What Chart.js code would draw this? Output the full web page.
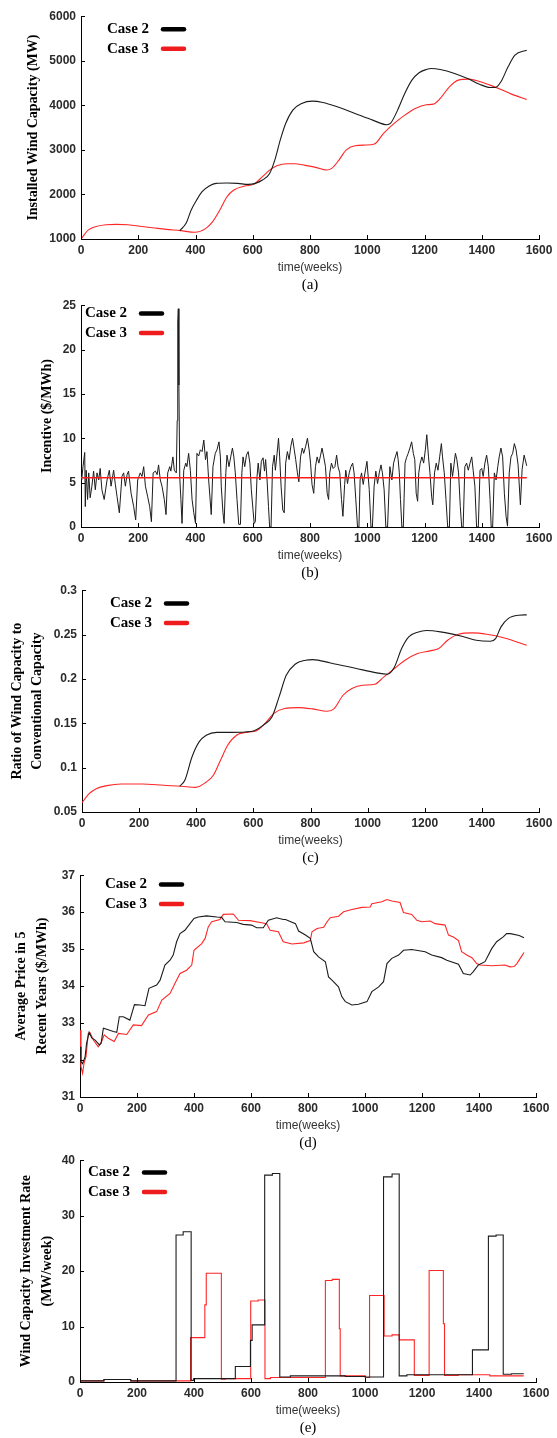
<!DOCTYPE html>
<html>
<head>
<meta charset="utf-8">
<title>Wind capacity cases</title>
<script src="https://cdn.jsdelivr.net/npm/chart.js@4.4.1/dist/chart.umd.min.js"></script>
<style>
    body { margin: 0; background: #fff; width: 557px; height: 1438px; position: relative; overflow: hidden; }
    canvas { position: absolute; left: 0; }
</style>
</head>
<body>
<canvas id="chartA"></canvas>
<canvas id="chartB"></canvas>
<canvas id="chartC"></canvas>
<canvas id="chartD"></canvas>
<canvas id="chartE"></canvas>
<script>
// values: weeks and the value at that week
const seriesNames = ["Case 2", "Case 3"];

// (a) installed wind capacity (MW)
const weeksA2 = [345, 367, 385, 404, 423, 448, 472, 510, 547, 584, 609, 634, 659, 677, 696, 715, 740, 771, 808, 845, 895, 957, 1019, 1069, 1081, 1106, 1131, 1156, 1181, 1206, 1224, 1255, 1305, 1355, 1392, 1429, 1448, 1467, 1492, 1516, 1557];
const capA2 = [1190, 1351, 1650, 1874, 2061, 2188, 2248, 2256, 2248, 2226, 2248, 2323, 2472, 2771, 3220, 3593, 3892, 4042, 4094, 4064, 3967, 3818, 3668, 3564, 3593, 3892, 4266, 4565, 4730, 4804, 4827, 4804, 4715, 4588, 4475, 4400, 4400, 4528, 4864, 5125, 5238];
const weeksA3 = [0, 25, 50, 87, 124, 162, 199, 249, 298, 348, 398, 435, 460, 485, 510, 534, 572, 603, 634, 659, 684, 721, 746, 783, 820, 858, 876, 901, 926, 957, 994, 1025, 1057, 1094, 1131, 1168, 1206, 1231, 1255, 1287, 1318, 1355, 1392, 1429, 1467, 1504, 1557];
const capA3 = [1000, 1200, 1276, 1320, 1329, 1320, 1290, 1254, 1217, 1187, 1150, 1232, 1389, 1650, 1949, 2099, 2188, 2226, 2398, 2547, 2644, 2689, 2689, 2652, 2607, 2547, 2584, 2771, 2995, 3093, 3108, 3130, 3369, 3593, 3780, 3930, 4012, 4027, 4154, 4416, 4565, 4588, 4535, 4453, 4356, 4251, 4132];

// (b) incentive ($/MWh)
const weeksB2 = [0, 3, 7, 13, 15, 18, 23, 27, 32, 38, 44, 50, 56, 62, 67, 73, 81, 91, 99, 105, 114, 120, 126, 134, 143, 149, 155, 161, 166, 175, 184, 191, 198, 207, 213, 219, 225, 233, 240, 246, 252, 260, 266, 271, 277, 283, 291, 297, 303, 310, 314, 321, 326, 333, 336, 338, 340, 342, 345, 349, 353, 359, 366, 370, 376, 382, 388, 394, 400, 405, 411, 417, 423, 429, 435, 440, 446, 452, 455, 461, 469, 475, 482, 487,
    490, 496, 500, 506, 510, 517, 523, 529, 534, 539, 545, 551, 557, 562, 566, 572, 578, 584, 590, 595, 601, 605, 609, 615, 619, 625, 630, 636, 641, 645, 650, 655, 659, 664, 669, 675, 679, 685, 690, 694, 699, 705, 710, 715, 721, 727, 733, 739, 745, 750, 756, 761, 767, 773, 778, 785, 791, 797, 802, 807, 813, 819, 825, 831, 837, 842, 848, 854, 860, 865, 869, 875, 881, 887, 893, 898, 904, 910, 915, 921, 925, 931, 937, 943, 949, 954, 960, 966, 971, 975, 980, 986, 992,
    999, 1007, 1013, 1018, 1024, 1030, 1036, 1042, 1048, 1053, 1059, 1065, 1071, 1079, 1086, 1092, 1098, 1104, 1108, 1112, 1116, 1121, 1126, 1132, 1137, 1143, 1149, 1155, 1161, 1166, 1171, 1176, 1180, 1185, 1191, 1197, 1203, 1208, 1214, 1219, 1225, 1229, 1235, 1241, 1247, 1253, 1259, 1263, 1269, 1275, 1281, 1287, 1292, 1298, 1303, 1308, 1313, 1319, 1325, 1330, 1335, 1341, 1347, 1353, 1359, 1365, 1370, 1376, 1382, 1388, 1394, 1400, 1405, 1411, 1417, 1423, 1429, 1433, 1438, 1444, 1450, 1456, 1461, 1467, 1473, 1479, 1485, 1490, 1496, 1502, 1508, 1514, 1520, 1527, 1535, 1541, 1548, 1557];
const incB2 = [5.3, 5.5, 6.8, 8.4, 2.3, 6.4, 3.1, 6.1, 3.3, 4.6, 6.3, 4.2, 6.1, 5.3, 6.6, 4.2, 3.1, 5.3, 6.4, 4.6, 6.4, 4.8, 3.4, 1.6, 5.7, 6.1, 4.6, 5.9, 6.3, 3.8, 2.3, 0.8, 5.3, 6.1, 5.7, 6.8, 4.6, 3.4, 2.3, 0.6, 6.1, 6.3, 5.9, 7.0, 5.3, 4.6, 3.1, 1.4, 6.1, 6.8, 6.3, 7.9, 6.4, 6.1, 12.0, 23.1, 24.6, 16.0, 5.6, 3.1, 0.4, 6.4, 7.2, 6.8, 8.3, 6.4, 3.1, 1.6, 0.4, 8.3, 8.0, 8.7, 8.5, 9.8, 7.6, 8.5, 5.3, 2.7, 1.4, 6.8, 8.3, 8.7, 9.6, 7.9,
    4.6, 1.6, 0.4, 6.1, 8.1, 6.8, 7.9, 8.9, 7.9, 6.1, 3.1, 0.3, 0.3, 6.1, 7.9, 6.8, 8.1, 8.5, 7.2, 4.2, 1.9, 0.4, 0.6, 5.7, 7.2, 5.3, 7.4, 7.8, 6.3, 7.6, 5.3, 2.3, 0, 0, 6.8, 8.1, 6.4, 8.3, 10.0, 7.9, 4.6, 1.9, 1.6, 7.2, 8.5, 7.6, 9.1, 10.0, 8.7, 7.6, 6.1, 5.1, 7.9, 8.9, 8.3, 9.1, 10.0, 8.7, 7.2, 4.8, 3.8, 6.8, 7.9, 7.2, 8.1, 8.9, 7.9, 6.8, 3.8, 3.1, 6.1, 7.2, 6.6, 6.8, 8.1, 6.8, 6.1, 3.1, 1.2, 4.8, 6.4, 4.9, 6.1, 6.8, 7.2, 6.1, 3.1, 0, 0, 5.3, 6.1, 4.8, 6.1,
    7.4, 4.2, 0, 0, 4.6, 6.3, 4.9, 6.1, 7.0, 6.1, 4.2, 0, 0, 6.8, 5.3, 7.2, 7.9, 8.5, 7.6, 6.1, 3.1, 0, 0, 7.2, 7.8, 8.3, 8.9, 9.6, 8.3, 7.6, 3.8, 2.9, 6.1, 7.2, 7.9, 7.2, 8.7, 10.4, 7.9, 6.1, 3.4, 2.5, 6.1, 7.2, 6.4, 7.9, 9.4, 7.9, 6.1, 3.1, 0, 0, 7.2, 5.7, 7.0, 8.3, 7.6, 6.1, 2.3, 0, 0, 6.8, 7.2, 6.4, 7.2, 7.9, 6.4, 4.6, 0, 0, 6.4, 6.6, 5.7, 7.2, 8.1, 6.8, 3.1, 0, 0, 6.1, 5.3, 6.8, 7.9, 8.9, 7.9, 3.8, 1.2, 0.1, 6.1, 7.9, 8.3, 9.4, 8.7, 7.0, 2.5, 6.5, 8.1, 6.9];
const weeksB3 = [0, 1557];
const incB3 = [5.56, 5.56];

// (c) ratio of wind to conventional capacity
const weeksC2 = [342, 360, 385, 410, 435, 472, 522, 572, 603, 634, 665, 690, 715, 746, 783, 808, 870, 957, 1032, 1069, 1094, 1119, 1144, 1175, 1206, 1255, 1330, 1380, 1430, 1448, 1467, 1492, 1529, 1557];
const ratioC2 = [0.0790, 0.0857, 0.1120, 0.1290, 0.1365, 0.1398, 0.1398, 0.1402, 0.1417, 0.1477, 0.1571, 0.1797, 0.2041, 0.2165, 0.2211, 0.2218, 0.2180, 0.2120, 0.2068, 0.2053, 0.2135, 0.2342, 0.2474, 0.2526, 0.2545, 0.2530, 0.2481, 0.2436, 0.2425, 0.2455, 0.2587, 0.2680, 0.2718, 0.2722];
const weeksC3 = [0, 25, 50, 87, 137, 211, 286, 348, 398, 435, 460, 485, 510, 541, 584, 609, 640, 671, 709, 758, 808, 858, 883, 914, 945, 982, 1025, 1057, 1094, 1131, 1175, 1218, 1249, 1280, 1318, 1367, 1417, 1479, 1557];
const ratioC3 = [0.0605, 0.0707, 0.0763, 0.0797, 0.0816, 0.0816, 0.0801, 0.0790, 0.0778, 0.0838, 0.0914, 0.1083, 0.1252, 0.1365, 0.1402, 0.1414, 0.1496, 0.1609, 0.1666, 0.1677, 0.1662, 0.1635, 0.1666, 0.1816, 0.1891, 0.1929, 0.1940, 0.2023, 0.2117, 0.2211, 0.2286, 0.2316, 0.2342, 0.2436, 0.2504, 0.2519, 0.2504, 0.2462, 0.2380];

// (d) average price in 5 recent years ($/MWh)
const weeksD2 = [0, 3.5, 9, 18, 23, 32, 41, 53, 68, 74, 82, 94, 117, 129, 138, 152, 175, 191, 211, 228, 242, 269, 281, 298, 316, 327, 339, 351, 368, 386, 400, 415, 444, 480, 497, 509, 550, 573, 602, 620, 643, 661, 690, 713, 721, 756, 767, 791, 808, 820, 837, 861, 872, 884, 907, 919, 931, 954, 977, 1007, 1024, 1048, 1065, 1077, 1094, 1118, 1135, 1164, 1211, 1234, 1269, 1287, 1328, 1345, 1369, 1380, 1398, 1421, 1445, 1462, 1485, 1497, 1510, 1541, 1558];
const priceD2 = [32.36, 31.95, 31.9, 32.09, 32.45, 32.75, 32.6, 32.54, 32.41, 32.45, 32.86, 32.83, 32.77, 32.75, 33.17, 33.17, 33.08, 33.5, 33.49, 33.47, 33.94, 34.03, 34.16, 34.57, 34.70, 34.84, 35.2, 35.42, 35.51, 35.69, 35.83, 35.87, 35.9, 35.87, 35.86, 35.74, 35.72, 35.67, 35.65, 35.58, 35.58, 35.78, 35.85, 35.8, 35.8, 35.69, 35.49, 35.38, 35.29, 34.93, 34.79, 34.66, 34.25, 34.16, 33.98, 33.71, 33.58, 33.49, 33.51, 33.58, 33.85, 33.98, 34.12, 34.61, 34.75, 34.84, 34.97, 34.99, 34.93, 34.84, 34.77, 34.70, 34.59, 34.34, 34.3, 34.39, 34.57, 34.66, 35.02, 35.2, 35.33, 35.42, 35.42, 35.37, 35.31];
const weeksD3 = [0, 3.5, 9, 14, 21, 29, 35, 47, 64, 76, 85, 99, 120, 135, 164, 187, 216, 240, 269, 287, 316, 333, 351, 374, 392, 400, 427, 439, 450, 462, 491, 503, 538, 556, 597, 632, 655, 667, 696, 713, 744, 785, 808, 814, 832, 855, 867, 878, 907, 925, 954, 989, 1018, 1024, 1059, 1077, 1094, 1123, 1135, 1164, 1182, 1199, 1229, 1246, 1281, 1293, 1310, 1328, 1339, 1357, 1375, 1392, 1404, 1445, 1491, 1509, 1523, 1533, 1548, 1558];
const priceD3 = [32.81, 31.82, 31.64, 31.91, 32.09, 32.72, 32.74, 32.54, 32.36, 32.5, 32.68, 32.59, 32.5, 32.72, 32.69, 32.95, 32.93, 33.22, 33.31, 33.62, 33.8, 34.07, 34.34, 34.43, 34.57, 34.97, 35.15, 35.29, 35.6, 35.74, 35.8, 35.94, 35.95, 35.78, 35.77, 35.72, 35.69, 35.51, 35.47, 35.2, 35.14, 35.17, 35.23, 35.47, 35.56, 35.59, 35.74, 35.85, 35.89, 36.01, 36.07, 36.13, 36.14, 36.23, 36.28, 36.34, 36.3, 36.26, 35.99, 35.94, 35.78, 35.74, 35.76, 35.69, 35.65, 35.38, 35.33, 35.23, 34.93, 34.84, 34.77, 34.61, 34.57, 34.55, 34.57, 34.52, 34.53, 34.61, 34.79, 34.91];

// (e) wind capacity investment rate (MW/week), value held from each week to the next
const weeksE2 = [0, 84, 178, 337, 362, 390, 399, 545, 598, 604, 648, 675, 701, 738, 931, 1001, 1065, 1095, 1120, 1147, 1377, 1433, 1460, 1485, 1514, 1557];
const rateE2 = [0.2, 0.45, 0.2, 26.5, 27.1, 0.3, 0.6, 2.8, 7.5, 10.3, 37.3, 37.6, 0.9, 1.1, 1.0, 0.9, 37.0, 37.5, 1.1, 1.3, 5.8, 26.3, 26.5, 1.4, 1.5, 1.5];
const weeksE3 = [0, 84, 178, 388, 438, 443, 496, 510, 599, 625, 649, 668, 861, 885, 910, 913, 1001, 1016, 1067, 1095, 1120, 1173, 1225, 1275, 1279, 1327, 1438, 1557];
const rateE3 = [0.2, 0.45, 0.2, 8.0, 13.9, 19.6, 0.5, 0.6, 14.6, 14.8, 0.6, 0.8, 18.3, 18.5, 9.6, 1.1, 0.8, 15.6, 8.3, 8.5, 7.6, 1.2, 20.1, 10.5, 1.2, 1.3, 1.1, 1.1];

const LINE_BLACK = "#1c1c1c";
const LINE_RED = "#ff2626";
const SWATCH_BLACK = "#000";
const SWATCH_RED = "#ee1c1c";

// inward tick marks, side legend and the (a)...(e) caption
const paperDecor = {
    id: "paperDecor",
    afterDraw(chart, args, opts) {
        let ctx = chart.ctx;
        let area = chart.chartArea;
        let xs = chart.scales.x;
        let ys = chart.scales.y;
        ctx.save();
        ctx.strokeStyle = "#000";
        ctx.lineWidth = 1;
        ctx.beginPath();
        xs.ticks.forEach(t => {
            let px = Math.round(xs.getPixelForValue(t.value)) + 0.5;
            ctx.moveTo(px, area.bottom);
            ctx.lineTo(px, area.bottom - 4);
        });
        ys.ticks.forEach(t => {
            let py = Math.round(ys.getPixelForValue(t.value)) + 0.5;
            ctx.moveTo(area.left, py);
            ctx.lineTo(area.left + 4, py);
        });
        ctx.stroke();

        ctx.font = "bold 15px 'Liberation Serif'";
        ctx.textBaseline = "middle";
        chart.data.datasets.forEach((ds, i) => {
            let y = area.top + opts.legendDy + i * 19.5;
            ctx.fillStyle = "#000";
            ctx.fillText(ds.label, opts.legendX, y);
            ctx.strokeStyle = ds.swatch;
            ctx.lineWidth = 4.5;
            ctx.lineCap = "round";
            ctx.beginPath();
            ctx.moveTo(opts.legendX + 56, y);
            ctx.lineTo(opts.legendX + 77, y);
            ctx.stroke();
        });

        ctx.font = "15px 'Liberation Serif'";
        ctx.textAlign = "center";
        ctx.fillStyle = "#000";
        ctx.fillText(opts.caption, (area.left + area.right) / 2, area.bottom + 46);
        ctx.restore();
    }
};

function pts(xs, ys) {
    return xs.map((x, i) => ({ x: x, y: ys[i] }));
}

function tickText(v) {
    return String(Number(v.toFixed(2)));
}

function series(i, xs, ys, extra) {
    return Object.assign({
        label: seriesNames[i],
        data: pts(xs, ys),
        borderColor: i === 0 ? LINE_BLACK : LINE_RED,
        swatch: i === 0 ? SWATCH_BLACK : SWATCH_RED,
        borderWidth: 1.1,
        pointRadius: 0,
        fill: false
    }, extra || {});
}

function drawPanel(id, p, datasets) {
    let canvas = document.getElementById(id);
    canvas.width = 557;
    canvas.height = 12 + p.plotH + 56;
    canvas.style.top = (p.top - 12) + "px";

    new Chart(canvas, {
        type: "line",
        data: { datasets: datasets },
        plugins: [paperDecor],
        options: {
            responsive: false,
            animation: false,
            devicePixelRatio: 1,
            events: [],
            layout: { padding: { top: 12, left: 0, right: 557 - p.right, bottom: 0 } },
            plugins: {
                legend: { display: false },
                tooltip: { enabled: false },
                paperDecor: { legendX: p.legendX, legendDy: p.legendDy, caption: p.caption }
            },
            scales: {
                x: {
                    type: "linear",
                    min: 0,
                    max: 1600,
                    ticks: {
                        stepSize: 200, padding: 4, autoSkip: false, maxRotation: 0,
                        color: "#2b2b2b", font: { family: "Liberation Sans", size: 12, weight: "bold" },
                        callback: tickText
                    },
                    grid: { drawOnChartArea: false, drawTicks: false },
                    border: { color: "#000", width: 1 },
                    title: {
                        display: true, text: "time(weeks)", color: "#333",
                        font: { family: "Liberation Sans", size: 12 },
                        padding: { top: 0, bottom: 20.5 }
                    },
                    afterFit: s => { s.height = 56; }
                },
                y: {
                    type: "linear",
                    min: p.yMin,
                    max: p.yMax,
                    ticks: {
                        stepSize: p.yStep, padding: 5,
                        color: "#2b2b2b", font: { family: "Liberation Sans", size: 12, weight: "bold" },
                        callback: tickText
                    },
                    grid: { drawOnChartArea: false, drawTicks: false },
                    border: { color: "#000", width: 1 },
                    title: {
                        display: true, text: p.yTitle, color: "#000",
                        font: { family: "Liberation Serif", size: 14, weight: "bold", lineHeight: p.titleLH },
                        padding: { top: p.titlePad, bottom: 0 }
                    },
                    afterFit: s => { s.width = p.left; }
                }
            }
        }
    });
}

const smooth = { cubicInterpolationMode: "monotone" };

drawPanel("chartA", {
    top: 16, plotH: 223, left: 81, right: 539,
    yMin: 1000, yMax: 6000, yStep: 1000,
    yTitle: "Installed Wind Capacity (MW)", titleLH: 1.2, titlePad: 25.3,
    legendX: 107, legendDy: 13, caption: "(a)"
}, [series(0, weeksA2, capA2, smooth), series(1, weeksA3, capA3, smooth)]);

// the flat Case 3 line sits on top of the Case 2 trace here
drawPanel("chartB", {
    top: 305, plotH: 222, left: 81, right: 539,
    yMin: 0, yMax: 25, yStep: 5,
    yTitle: "Incentive ($/MWh)", titleLH: 1.2, titlePad: 38.6,
    legendX: 85, legendDy: 8.3, caption: "(b)"
}, [series(0, weeksB2, incB2, { borderWidth: 1 }), series(1, weeksB3, incB3, { order: -1, borderWidth: 1.5, borderColor: "#ff1a1a" })]);

drawPanel("chartC", {
    top: 590, plotH: 222, left: 82, right: 539,
    yMin: 0.05, yMax: 0.3, yStep: 0.05,
    yTitle: ["Ratio of Wind Capacity to", "Conventional Capacity"], titleLH: 1.45, titlePad: 6.85,
    legendX: 110, legendDy: 13.3, caption: "(c)"
}, [series(0, weeksC2, ratioC2, smooth), series(1, weeksC3, ratioC3, smooth)]);

drawPanel("chartD", {
    top: 875, plotH: 222, left: 80, right: 536,
    yMin: 31, yMax: 37, yStep: 1,
    yTitle: ["Average Price in 5", "Recent Years ($/MWh)"], titleLH: 1.52, titlePad: 10.65,
    legendX: 105, legendDy: 9.3, caption: "(d)"
}, [series(0, weeksD2, priceD2), series(1, weeksD3, priceD3)]);

drawPanel("chartE", {
    top: 1160, plotH: 222, left: 80, right: 536,
    yMin: 0, yMax: 40, yStep: 10,
    yTitle: ["Wind Capacity Investment Rate", "(MW/week)"], titleLH: 1.47, titlePad: 16.3,
    legendX: 88, legendDy: 12.3, caption: "(e)"
}, [series(0, weeksE2, rateE2, { stepped: true }), series(1, weeksE3, rateE3, { stepped: true })]);
</script>
</body>
</html>
